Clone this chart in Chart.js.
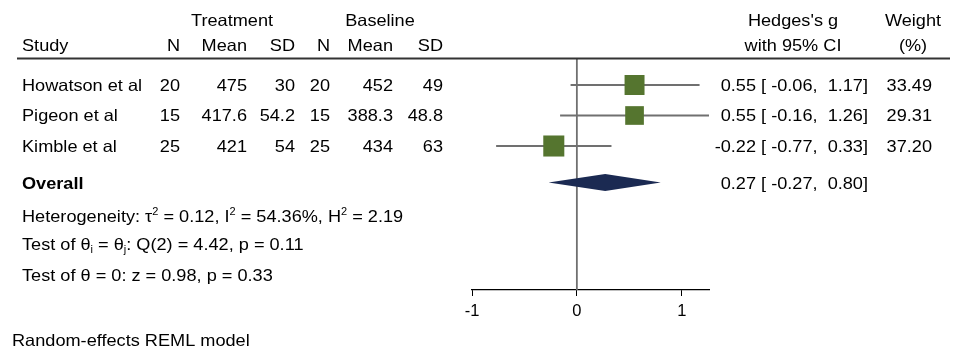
<!DOCTYPE html>
<html>
<head>
<meta charset="utf-8">
<script src="https://cdn.jsdelivr.net/npm/chart.js@4.4.0/dist/chart.umd.min.js"></script>
<style>
  html, body { margin: 0; padding: 0; background: #fff; }
</style>
</head>
<body>
<canvas id="forest" width="968" height="352"></canvas>
<script>
// Data ---

const studies = ["Howatson et al", "Pigeon et al", "Kimble et al"];
const trtN = ["20", "15", "25"];
const trtMean = ["475", "417.6", "421"];
const trtSD = ["30", "54.2", "54"];
const baseN = ["20", "15", "25"];
const baseMean = ["452", "388.3", "434"];
const baseSD = ["49", "48.8", "63"];

const effect = [0.55, 0.55, -0.22];
const ciLow = [-0.06, -0.16, -0.77];
const ciHigh = [1.17, 1.26, 0.33];
const weight = [33.49, 29.31, 37.20];

const overall = { effect: 0.27, low: -0.27, high: 0.80 };

const xTicks = [-1, 0, 1];

// Layout ---

const FAMILY = '"Liberation Sans", Arial, sans-serif';
const SIZE = 16.5;
const SX = 1.1; // glyphs in the reference are slightly wide
const Y_MIN = 0.148;
const Y_MAX = 7.72;
const OVERALL_ROW = 4.2;

const GREEN = "#55752f";
const NAVY = "#1b2a52";
const GREY = "#707070";

const fmt = (v) => v.toFixed(2);
const ciText = (g, lo, hi) => `${fmt(g)} [${fmt(lo).padStart(6)},${fmt(hi).padStart(6)}]`;

function text(ctx, s, x, y, align, bold) {
  ctx.save();
  ctx.font = `${bold ? "bold " : ""}${SIZE}px ${FAMILY}`;
  ctx.translate(x, y);
  ctx.scale(SX, 1);
  ctx.textAlign = align;
  ctx.textBaseline = "alphabetic";
  ctx.fillText(s, 0, 0);
  ctx.restore();
}

function runs(ctx, parts, x, y) {
  let cx = x;
  parts.forEach((p) => {
    const small = p.sup || p.sub;
    ctx.save();
    ctx.font = `${small ? 10 : SIZE}px ${FAMILY}`;
    const dy = p.sup ? -7 : p.sub ? 3 : 0;
    const w = ctx.measureText(p.t).width * SX;
    ctx.translate(cx, y + dy);
    ctx.scale(SX, 1);
    ctx.textAlign = "left";
    ctx.fillText(p.t, 0, 0);
    ctx.restore();
    cx += w;
  });
}

// Plugin: table text, header rule, overall diamond ---

const forestTable = {
  id: "forestTable",
  afterDatasetsDraw(chart) {
    const { ctx, scales } = chart;
    const xs = scales.x;
    const ys = scales.y;
    const yc = ys.getPixelForValue(OVERALL_ROW);
    const half = 8.5;

    ctx.save();
    ctx.fillStyle = NAVY;
    ctx.beginPath();
    ctx.moveTo(xs.getPixelForValue(overall.low), yc);
    ctx.lineTo(xs.getPixelForValue(overall.effect), yc - half);
    ctx.lineTo(xs.getPixelForValue(overall.high), yc);
    ctx.lineTo(xs.getPixelForValue(overall.effect), yc + half);
    ctx.closePath();
    ctx.fill();
    ctx.restore();
  },
  afterDraw(chart) {
    const { ctx, scales } = chart;
    const ys = scales.y;
    const base = (row) => ys.getPixelForValue(row) + 6;

    ctx.save();
    ctx.fillStyle = "#000";

    // header
    text(ctx, "Treatment", 232, 26, "center");
    text(ctx, "Baseline", 380, 26, "center");
    text(ctx, "Hedges's g", 793, 26, "center");
    text(ctx, "Weight", 913, 26, "center");

    const h2 = 51;
    text(ctx, "Study", 22, h2, "left");
    text(ctx, "N", 180, h2, "right");
    text(ctx, "Mean", 247, h2, "right");
    text(ctx, "SD", 295, h2, "right");
    text(ctx, "N", 330, h2, "right");
    text(ctx, "Mean", 393, h2, "right");
    text(ctx, "SD", 443, h2, "right");
    text(ctx, "with 95% CI", 793, h2, "center");
    text(ctx, "(%)", 913, h2, "center");

    ctx.fillStyle = "#333";
    ctx.fillRect(17, 57.5, 933, 2);
    ctx.fillStyle = "#000";

    // studies
    studies.forEach((name, i) => {
      const y = base(i + 1);
      text(ctx, name, 22, y, "left");
      text(ctx, trtN[i], 180, y, "right");
      text(ctx, trtMean[i], 247, y, "right");
      text(ctx, trtSD[i], 295, y, "right");
      text(ctx, baseN[i], 330, y, "right");
      text(ctx, baseMean[i], 393, y, "right");
      text(ctx, baseSD[i], 443, y, "right");
      text(ctx, ciText(effect[i], ciLow[i], ciHigh[i]), 868, y, "right");
      text(ctx, fmt(weight[i]), 932, y, "right");
    });

    // overall
    const yo = base(OVERALL_ROW);
    text(ctx, "Overall", 22, yo, "left", true);
    text(ctx, ciText(overall.effect, overall.low, overall.high), 868, yo, "right");

    runs(ctx, [
      { t: "Heterogeneity: \u03c4" }, { t: "2", sup: true },
      { t: " = 0.12, I" }, { t: "2", sup: true },
      { t: " = 54.36%, H" }, { t: "2", sup: true },
      { t: " = 2.19" },
    ], 22, base(5.28));

    runs(ctx, [
      { t: "Test of \u03b8" }, { t: "i", sub: true },
      { t: " = \u03b8" }, { t: "j", sub: true },
      { t: ": Q(2) = 4.42, p = 0.11" },
    ], 22, base(6.21));

    runs(ctx, [{ t: "Test of \u03b8 = 0: z = 0.98, p = 0.33" }], 22, base(7.22));

    text(ctx, "Random-effects REML model", 12, base(9.36), "left");

    ctx.restore();
  },
};

// Datasets ---

const datasets = [];

datasets.push({
  type: "scatter",
  label: "studies",
  data: effect.map((g, i) => ({ x: g, y: i + 1 })),
  pointStyle: "rect",
  pointRadius: weight.map((w) => (3.45 * Math.sqrt(w)) / Math.SQRT2),
  pointBackgroundColor: GREEN,
  pointBorderWidth: 0,
  order: 0,
  clip: false,
});

studies.forEach((name, i) => {
  datasets.push({
    type: "line",
    label: name,
    data: [{ x: ciLow[i], y: i + 1 }, { x: ciHigh[i], y: i + 1 }],
    borderColor: GREY,
    borderWidth: 2,
    pointRadius: 0,
    order: 1,
    clip: false,
  });
});

datasets.push({
  type: "line",
  label: "no effect",
  data: [{ x: 0, y: Y_MIN }, { x: 0, y: Y_MAX }],
  borderColor: GREY,
  borderWidth: 1.8,
  pointRadius: 0,
  order: 2,
  clip: false,
});

// Chart ---

new Chart(document.getElementById("forest"), {
  type: "scatter",
  data: { datasets },
  options: {
    responsive: false,
    devicePixelRatio: 1,
    animation: false,
    events: [],
    layout: { padding: { left: 472, right: 259, top: 59, bottom: 0 } },
    plugins: {
      legend: { display: false },
      tooltip: { enabled: false },
    },
    scales: {
      x: {
        type: "linear",
        min: -1,
        max: 1.26,
        afterFit(scale) {
          scale.height = 62;
        },
        afterBuildTicks(scale) {
          scale.ticks = xTicks.map((v) => ({ value: v }));
        },
        grid: {
          drawOnChartArea: false,
          drawTicks: true,
          tickLength: 6,
          color: "#000",
          lineWidth: 1,
        },
        border: { color: "#000", width: 1.2 },
        ticks: {
          color: "#000",
          font: { family: FAMILY, size: SIZE },
          padding: 6,
          autoSkip: false,
          maxRotation: 0,
          minRotation: 0,
        },
      },
      y: {
        type: "linear",
        display: false,
        reverse: true,
        min: Y_MIN,
        max: Y_MAX,
      },
    },
  },
  plugins: [forestTable],
});
</script>
</body>
</html>
